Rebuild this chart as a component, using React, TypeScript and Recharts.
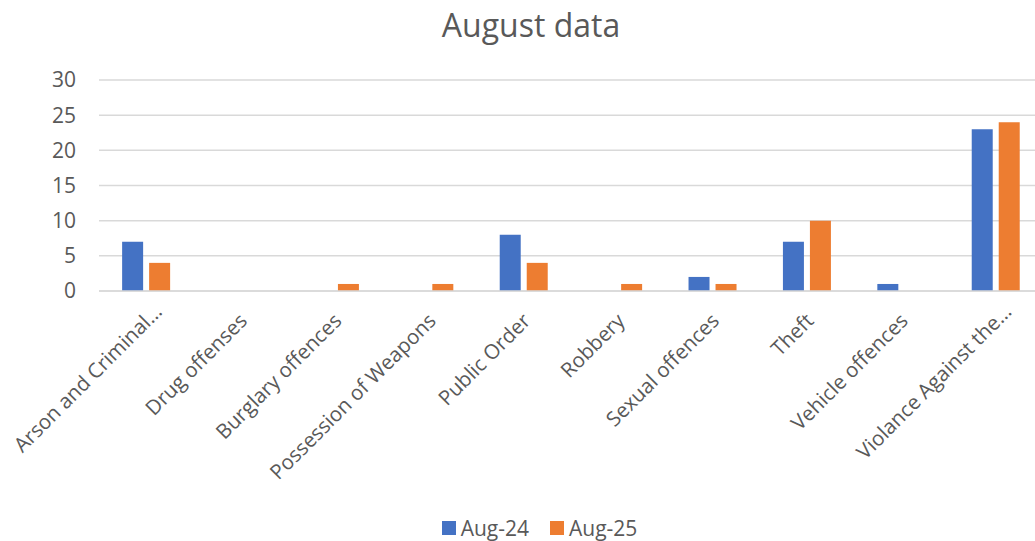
import React from "react";
import { BarChart, Bar, XAxis, YAxis, CartesianGrid, Legend } from "recharts";

const categories = [
  "Arson and Criminal…",
  "Drug offenses",
  "Burglary offences",
  "Possession of Weapons",
  "Public Order",
  "Robbery",
  "Sexual offences",
  "Theft",
  "Vehicle offences",
  "Violance Against the…",
];
const aug24 = [7, 0, 0, 0, 8, 0, 2, 7, 1, 23];
const aug25 = [4, 0, 1, 1, 4, 1, 1, 10, 0, 24];
const yTicks = [0, 5, 10, 15, 20, 25, 30];
const seriesNames = ["Aug-24", "Aug-25"];
const seriesColors = ["#4472C4", "#ED7D31"];

const data = categories.map((c, i) => ({ name: c, a: aug24[i], b: aug25[i] }));

const FONT = "'Open Sans', 'Noto Sans', sans-serif";
const TEXT = "#595959";

const XTick = (props: any) => {
  const { x, y, payload } = props;
  const v: string = payload.value;
  const ax = x + 17;
  const ay = y + 14;
  const dx = v.endsWith("…") ? 0 : -13;
  return (
    <text
      x={ax}
      y={ay}
      dx={dx}
      transform={`rotate(-45 ${ax} ${ay})`}
      textAnchor="end"
      fill={TEXT}
      fontSize={20.5}
      fontFamily={FONT}
    >
      {v}
    </text>
  );
};

const YTick = (props: any) => {
  const { x, y, payload } = props;
  return (
    <text x={x - 15} y={y} dy="0.355em" textAnchor="end" fill={TEXT} fontSize={21} fontFamily={FONT}>
      {payload.value}
    </text>
  );
};

const LegendContent = () => (
  <div
    style={{
      height: 26,
      display: "flex",
      justifyContent: "center",
      alignItems: "center",
      fontFamily: FONT,
      fontSize: 21,
      color: TEXT,
      paddingLeft: 36,
    }}
  >
    {seriesNames.map((n, i) => (
      <div key={n} style={{ display: "flex", alignItems: "center", marginRight: i === 0 ? 21 : 0 }}>
        <div style={{ width: 14, height: 14, background: seriesColors[i], marginRight: 5 }} />
        <span>{n}</span>
      </div>
    ))}
  </div>
);

export default function App() {
  return (
    <div style={{ position: "absolute", left: 0, top: 0, width: 1035, height: 541, background: "#fff", overflow: "hidden" }}>
      <div
        style={{
          position: "absolute",
          left: 0,
          top: 3,
          width: 1062,
          textAlign: "center",
          fontFamily: FONT,
          fontSize: 32,
          color: TEXT,
          lineHeight: "normal",
        }}
      >
        August data
      </div>
      <BarChart
        width={1035}
        height={541}
        data={data}
        margin={{ top: 80, right: -8, left: 0, bottom: 0 }}
        barCategoryGap="24.5%"
        barGap={6}
      >
        <CartesianGrid vertical={false} stroke="#d9d9d9" strokeWidth={1.5} />
        <XAxis
          dataKey="name"
          interval={0}
          height={224}
          tick={<XTick />}
          tickLine={false}
          axisLine={{ stroke: "#d9d9d9", strokeWidth: 1.5 }}
        />
        <YAxis
          width={99}
          domain={[0, 30]}
          ticks={yTicks}
          tickLine={false}
          axisLine={false}
          tick={<YTick />}
        />
        <Legend verticalAlign="bottom" height={26} content={<LegendContent />} />
        <Bar dataKey="a" name={seriesNames[0]} fill={seriesColors[0]} isAnimationActive={false} />
        <Bar dataKey="b" name={seriesNames[1]} fill={seriesColors[1]} isAnimationActive={false} />
      </BarChart>
    </div>
  );
}
